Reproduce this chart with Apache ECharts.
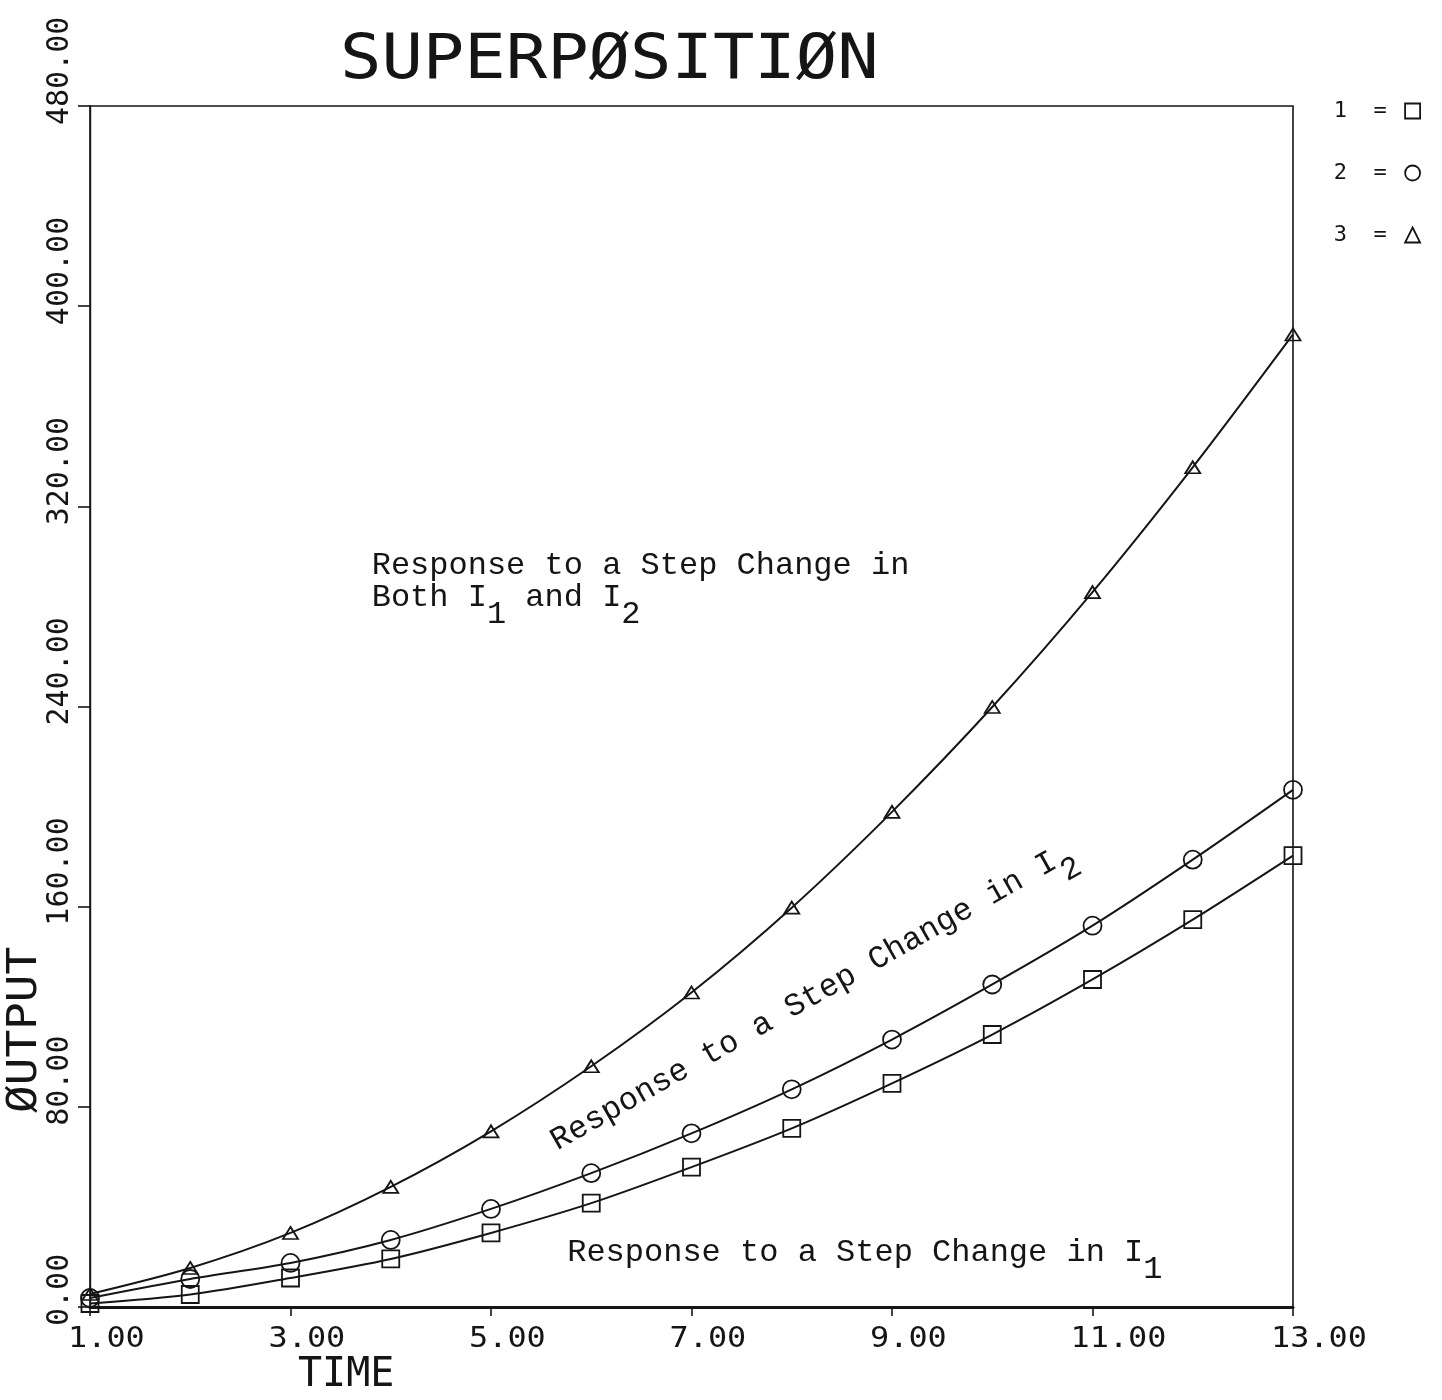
<!DOCTYPE html>
<html>
<head>
<meta charset="utf-8">
<script src="https://cdn.jsdelivr.net/npm/echarts@6/dist/echarts.min.js"></script>
<style>
  html, body { margin: 0; padding: 0; background: #ffffff; }
  #chart { width: 1442px; height: 1400px; }
</style>
</head>
<body>
<div id="chart"></div>
<script>
// Output of the system over time for each step input
const TIME = [1, 2, 3, 4, 5, 6, 7, 8, 9, 10, 11, 12, 13];
const STEP_I1 = [1.4, 5.0, 11.6, 19.2, 29.6, 41.5, 55.9, 71.4, 89.4, 108.9, 130.9, 154.8, 180.4];
const STEP_I2 = [3.6, 11.2, 17.6, 26.8, 39.2, 53.5, 69.4, 87.0, 106.9, 128.9, 152.4, 178.8, 206.7];
const STEP_BOTH = [5.2, 15.6, 29.6, 48.0, 70.2, 96.2, 125.7, 159.6, 197.9, 239.8, 285.7, 335.6, 388.7];

const SERIES_NAMES = ['1', '2', '3'];
const X_TICKS = [1, 3, 5, 7, 9, 11, 13];
const Y_TICKS = [0, 80, 160, 240, 320, 400, 480];

const TITLE = 'SUPERPØSITIØN';
const X_NAME = 'TIME';
const Y_NAME = 'ØUTPUT';

// annotation anchors in data coordinates (time, output)
const NOTE_BOTH_1 = { text: 'Response to a Step Change in', at: [3.81, 296.2] };
const NOTE_BOTH_2 = { text: '{a|Both I}{s|1}{a| and I}{s|2}', at: [3.81, 283.6] };
const NOTE_I2 = { text: '{a|Response to a Step Change in I}{s|2}', at: [5.62, 65.5] };
const NOTE_I1 = { text: '{a|Response to a Step Change in I}{s|1}', at: [5.76, 21.6] };

const INK = '#151515';
const PLOT_FONT = '"DejaVu Sans Mono", monospace';
const TYPE_FONT = '"Liberation Mono", "DejaVu Sans Mono", monospace';

const chart = echarts.init(document.getElementById('chart'), null, { renderer: 'canvas' });

const hollow = { color: 'transparent', borderColor: INK, borderWidth: 1.8 };

function curve(name, values, symbol, size) {
  return {
    name: name,
    type: 'line',
    data: TIME.map((t, i) => [t, values[i]]),
    symbol: symbol,
    symbolSize: size,
    showSymbol: true,
    smooth: 0.3,
    lineStyle: { color: INK, width: 2 },
    itemStyle: hollow,
    emphasis: { disabled: true },
    z: 3
  };
}

chart.setOption({
  animation: false,
  backgroundColor: '#ffffff',
  grid: {
    left: 90, right: 149, top: 106, bottom: 93,
    show: true, borderColor: INK, borderWidth: 1.6, backgroundColor: 'transparent'
  },
  xAxis: {
    type: 'value', min: 1, max: 13,
    axisLine: { show: true, lineStyle: { color: INK, width: 3 } },
    axisTick: { show: true, customValues: X_TICKS, length: 9, lineStyle: { color: INK, width: 1.6 } },
    axisLabel: { show: false },
    splitLine: { show: false }
  },
  yAxis: {
    type: 'value', min: 0, max: 480, interval: 80,
    axisLine: { show: true, lineStyle: { color: INK, width: 1.4 } },
    axisTick: { show: true, length: 12, lineStyle: { color: INK, width: 1.6 } },
    axisLabel: { show: false },
    splitLine: { show: false }
  },
  legend: {
    orient: 'vertical', right: 16, top: 95, itemGap: 40,
    itemWidth: 15, itemHeight: 15, align: 'right', selectedMode: false,
    formatter: n => n + '  = ',
    textStyle: { fontFamily: PLOT_FONT, fontSize: 22, color: INK },
    itemStyle: { color: 'transparent', borderColor: INK, borderWidth: 1.8 },
    data: [
      { name: SERIES_NAMES[0], icon: 'rect' },
      { name: SERIES_NAMES[1], icon: 'circle' },
      { name: SERIES_NAMES[2], icon: 'triangle' }
    ]
  },
  series: [
    curve(SERIES_NAMES[0], STEP_I1, 'rect', 17),
    curve(SERIES_NAMES[1], STEP_I2, 'circle', 18),
    curve(SERIES_NAMES[2], STEP_BOTH, 'triangle', [15, 12])
  ]
});

// Text drawn with the plotter's layout: labels start just before each tick
const px = (x, y) => chart.convertToPixel({ gridIndex: 0 }, [x, y]);

function textEl(opts) {
  const style = Object.assign({
    fill: INK,
    align: opts.align || 'left', textAlign: opts.align || 'left',
    verticalAlign: 'middle', textVerticalAlign: 'middle'
  }, opts.style);
  return {
    type: 'text', x: opts.x, y: opts.y,
    rotation: opts.rotation || 0,
    scaleX: opts.scaleX || 1, scaleY: opts.scaleY || 1,
    silent: true, z: 10,
    style: style
  };
}

const elements = [];

elements.push(textEl({
  x: 340, y: 62, scaleX: 1.11,
  style: { text: TITLE, font: '62px ' + PLOT_FONT }
}));

Y_TICKS.forEach(v => {
  const p = px(1, v);
  elements.push(textEl({
    x: p[0] - 30, y: p[1] + 19, rotation: Math.PI / 2,
    style: { text: v.toFixed(2), font: '30px ' + PLOT_FONT }
  }));
});

X_TICKS.forEach(t => {
  const p = px(t, 0);
  elements.push(textEl({
    x: p[0] - 22, y: p[1] + 32, scaleX: 1.1,
    style: { text: t.toFixed(2), font: '29px ' + PLOT_FONT }
  }));
});

const origin = px(1, 0);
elements.push(textEl({
  x: origin[0] - 64, y: origin[1] - 194, rotation: Math.PI / 2, scaleX: 1.15,
  style: { text: Y_NAME, font: '40px ' + PLOT_FONT }
}));
elements.push(textEl({
  x: origin[0] + 208, y: origin[1] + 69,
  style: { text: X_NAME, font: '40px ' + PLOT_FONT }
}));

const rich = {
  a: { fontFamily: TYPE_FONT, fontSize: 32, color: INK },
  s: { fontFamily: TYPE_FONT, fontSize: 32, color: INK, padding: [34, 0, 0, 0] }
};

function note(n, rotation) {
  const p = px(n.at[0], n.at[1]);
  return textEl({
    x: p[0], y: p[1], rotation: rotation || 0,
    style: { text: n.text, rich: rich, font: '32px ' + TYPE_FONT }
  });
}

elements.push(note(NOTE_BOTH_1));
elements.push(note(NOTE_BOTH_2));
elements.push(note(NOTE_I2, 29.5 * Math.PI / 180));
elements.push(note(NOTE_I1));

chart.setOption({ graphic: { elements: elements } });
</script>
</body>
</html>
